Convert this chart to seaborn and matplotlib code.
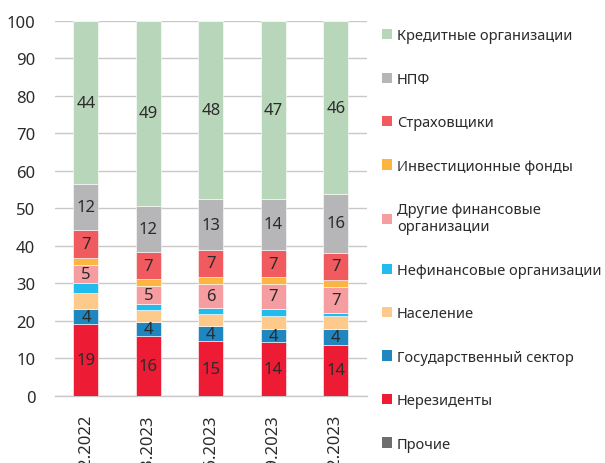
import numpy as np
import matplotlib
matplotlib.use("Agg")
import matplotlib.pyplot as plt
import seaborn as sns
from matplotlib.patches import Patch

dates = ["31.12.2022", "31.03.2023", "30.06.2023", "30.09.2023", "31.12.2023"]

# stacked from the bottom up
nerez = [19.1, 15.9, 14.6, 14.3, 13.7]
gos = [4.1, 3.9, 4.1, 3.6, 4.2]
naselenie = [4.2, 3.0, 3.1, 3.4, 3.4]
nefin = [2.6, 1.6, 1.7, 2.0, 0.9]
drugie = [5.0, 4.9, 6.4, 6.6, 6.9]
invest = [1.8, 1.9, 1.9, 1.7, 1.8]
strah = [7.4, 7.1, 7.2, 7.4, 7.3]
npf = [12.2, 12.4, 13.4, 13.6, 15.6]
kredit = [43.6, 49.3, 47.6, 47.4, 46.2]
prochie = [0, 0, 0, 0, 0]

series = [
    ("Нерезиденты", nerez, "#ed1b34", True),
    ("Государственный сектор", gos, "#1f86bf", True),
    ("Население", naselenie, "#fdca8b", False),
    ("Нефинансовые организации", nefin, "#22bbed", False),
    ("Другие финансовые\nорганизации", drugie, "#f59da1", True),
    ("Инвестиционные фонды", invest, "#fbb540", False),
    ("Страховщики", strah, "#f15a5e", True),
    ("НПФ", npf, "#b6b6b8", True),
    ("Кредитные организации", kredit, "#b8d6ba", True),
    ("Прочие", prochie, "#6d6e70", False),
]

sns.set_style("white")
plt.rcParams["font.family"] = ["Noto Sans", "DejaVu Sans"]

fig = plt.figure(figsize=(6.05, 4.64), dpi=100)
ax = fig.add_axes([0.0905, 0.1444, 0.5161, 0.8082])

x = np.arange(len(dates))
bottom = np.zeros(len(dates))
for name, vals, col, lab in series:
    vals = np.array(vals, dtype=float)
    ax.bar(x, vals, 0.4, bottom=bottom, color=col, edgecolor="white",
           linewidth=0.4, zorder=3)
    if lab:
        for xi, b, v in zip(x, bottom, vals):
            ax.text(xi, b + v / 2, f"{v:.0f}", ha="center", va="center",
                    fontsize=12, color="#2b2b2b", zorder=4)
    bottom += vals

ax.set_xlim(-0.5, 4.5)
ax.set_ylim(0, 100)
ax.set_yticks(range(0, 101, 10))
ax.yaxis.grid(True, color="#c8c8c8", linewidth=1, zorder=0)
for s in ["left", "right", "top"]:
    ax.spines[s].set_visible(False)
ax.spines["bottom"].set_color("#c8c8c8")
ax.spines["bottom"].set_linewidth(1)

ax.set_xticks(x)
ax.set_xticklabels(dates, rotation=90, fontsize=12, color="#2b2b2b")
ax.set_xticks(np.arange(-0.5, 5, 1), minor=True)
ax.tick_params(axis="x", which="major", length=0, pad=13)
ax.tick_params(axis="x", which="minor", length=9, direction="inout",
               color="#c8c8c8", width=1)
ax.tick_params(axis="y", length=0, pad=14, labelsize=12, labelcolor="#2b2b2b")

order = [s for s in series[::-1] if s[0] != "Прочие"] + [series[-1]]
handles = [Patch(facecolor=c, edgecolor="none") for n, v, c, l in order]
labels = [n for n, v, c, l in order]
fig.legend(handles, labels, loc="upper left",
           bbox_to_anchor=(0.61, 0.965), frameon=False, fontsize=10.5,
           handlelength=0.7, handleheight=0.7, handletextpad=0.3,
           labelspacing=1.95, labelcolor="#2b2b2b")

fig.savefig("out.png", dpi=100)
